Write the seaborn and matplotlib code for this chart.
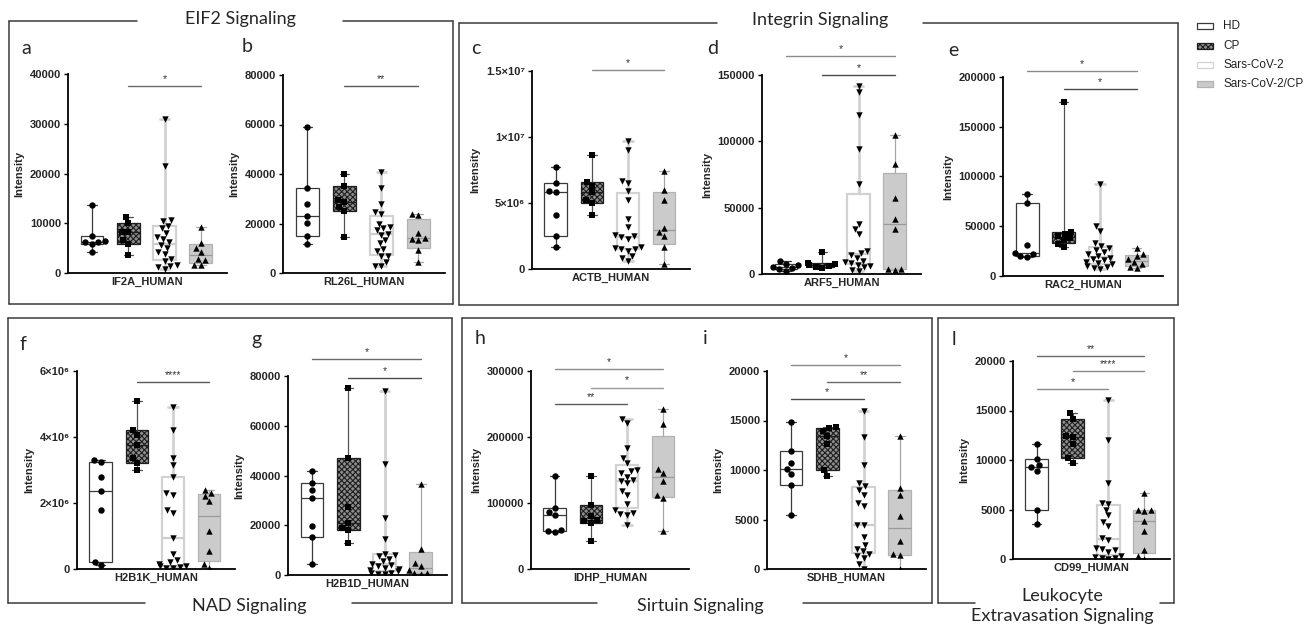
import warnings
warnings.filterwarnings("ignore")
import numpy as np
import pandas as pd
import matplotlib
matplotlib.use("Agg")
import matplotlib.pyplot as plt
import matplotlib.cbook as cbook
import seaborn as sns
from matplotlib.lines import Line2D
from matplotlib.patches import Rectangle

GROUPS = ["HD", "CP", "Sars-CoV-2", "Sars-CoV-2/CP"]

# ---- data ----
IF2A_HD = [13600, 7400, 6500, 6300, 6200, 5900, 4200]
IF2A_CP = [11300, 10100, 8300, 8200, 6600, 5800, 3600]
IF2A_SARS = [31000, 21500, 10600, 10400, 9500, 9000, 8000, 7300, 6800, 6200,
             5600, 5000, 4300, 3800, 2800, 2500, 1600, 1500, 1200, 900]
IF2A_SARSCP = [9200, 6000, 5100, 4300, 2800, 2600, 1700, 1600]

RL26L_HD = [59000, 34200, 28000, 23000, 20300, 15000, 11900]
RL26L_CP = [40000, 35300, 29500, 28700, 26500, 25000, 14700]
RL26L_SARS = [41000, 34500, 28000, 24500, 24000, 20000, 18500, 18000, 17500, 15800,
              15500, 13500, 12000, 9800, 8800, 7000, 6800, 4500, 3000, 2800]
RL26L_SARSCP = [24000, 23500, 16000, 14200, 13800, 13200, 9300, 4500]

ACTB_HD = [7.7e6, 6.5e6, 5.9e6, 5.8e6, 4.1e6, 2.5e6, 1.7e6]
ACTB_CP = [8.6e6, 6.6e6, 6.3e6, 5.8e6, 5.2e6, 5.0e6, 4.1e6]
ACTB_SARS = [9.7e6, 9.0e6, 6.7e6, 6.5e6, 5.9e6, 5.2e6, 3.8e6, 3.2e6, 2.6e6, 2.5e6,
             2.4e6, 2.3e6, 1.7e6, 1.6e6, 1.5e6, 1.5e6, 1.4e6, 1.0e6, 0.8e6, 0.6e6]
ACTB_SARSCP = [7.4e6, 6.0e6, 5.2e6, 3.1e6, 2.8e6, 2.5e6, 1.7e6, 0.35e6]

ARF5_HD = [9500, 7500, 6800, 5500, 4500, 3500, 2500]
ARF5_CP = [16500, 8500, 7500, 6800, 6000, 5200, 4500]
ARF5_SARS = [142000, 137000, 120000, 94000, 68000, 38000, 34000, 30000, 17000, 16000,
             14000, 12000, 10000, 9000, 8000, 7000, 6000, 5000, 3000, 2000]
ARF5_SARSCP = [105000, 83000, 57000, 41500, 34000, 4000, 3500, 3000]

RAC2_HD = [82000, 73000, 31000, 23000, 22000, 20000, 19000]
RAC2_CP = [175000, 44500, 42500, 40000, 38000, 36000, 32000, 29000]
RAC2_SARS = [92000, 50000, 45000, 33000, 30000, 28000, 26000, 24000, 22000, 20000,
             18000, 17000, 16000, 14000, 13000, 12000, 10000, 9000, 8000, 7000]
RAC2_SARSCP = [28000, 22000, 20000, 17000, 14000, 12000, 9000, 8000]

H2B1K_HD = [3.3e6, 3.25e6, 2.8e6, 2.35e6, 1.8e6, 0.2e6, 0.13e6]
H2B1K_CP = [5.1e6, 4.2e6, 4.05e6, 3.75e6, 3.35e6, 3.2e6, 3.0e6]
H2B1K_SARS = [4.9e6, 4.2e6, 3.35e6, 3.15e6, 2.8e6, 2.3e6, 2.25e6, 1.8e6, 1.7e6, 0.95e6,
              0.45e6, 0.26e6, 0.2e6, 0.15e6, 0.1e6, 0.08e6, 0.06e6, 0.04e6, 0.02e6]
H2B1K_SARSCP = [2.4e6, 2.3e6, 2.2e6, 2.05e6, 1.15e6, 0.55e6, 0.15e6, 0.02e6]

H2B1D_HD = [42000, 37000, 34000, 31000, 19800, 15300, 4400]
H2B1D_CP = [75000, 47000, 27500, 21000, 18800, 18000, 13000]
H2B1D_SARS = [74000, 44500, 23000, 14500, 8500, 8000, 7500, 6500, 5500, 4500,
              4000, 3500, 3000, 2500, 2000, 1500, 1000, 800, 500, 300]
H2B1D_SARSCP = [36500, 10500, 4800, 3500, 2200, 1000, 700, 500]

IDHP_HD = [141000, 93000, 86000, 82000, 59000, 57000, 56000]
IDHP_CP = [141000, 96500, 81000, 74000, 72000, 69500, 42500]
IDHP_SARS = [227000, 221000, 184000, 168000, 160000, 150000, 148000, 145000, 140000, 135000,
             133000, 130000, 118000, 112000, 98000, 90000, 85000, 84000, 82000, 66000]
IDHP_SARSCP = [243000, 219000, 152000, 145000, 133000, 112000, 108000, 58000]

SDHB_HD = [14800, 11900, 10700, 10100, 9600, 8500, 5500]
SDHB_CP = [14300, 14200, 13900, 13400, 12600, 9950, 9400]
SDHB_SARS = [16000, 13300, 10500, 8700, 8400, 8000, 7500, 6700, 6400, 4400,
             4400, 3200, 2400, 2000, 1800, 1500, 1300, 1100, 500, 50]
SDHB_SARSCP = [13400, 8200, 7500, 5400, 2800, 1500, 1400, 50]

CD99_HD = [11600, 10100, 9500, 9300, 8900, 4900, 3500]
CD99_CP = [14700, 14100, 12400, 12300, 11600, 10200, 9700]
CD99_SARS = [16100, 12000, 7700, 5700, 5600, 5000, 4400, 3700, 3300, 2100,
             1900, 1100, 1000, 900, 700, 300, 200, 100, 80, 50]
CD99_SARSCP = [6700, 5000, 4900, 4800, 3800, 2800, 900, 300, 20]

# ---- quartiles as GraphPad computes them ((n+1)p rule) ----
_orig_stats = cbook.boxplot_stats


def graphpad_stats(X, *args, **kwargs):
    out = _orig_stats(X, *args, **kwargs)
    if isinstance(X, (list, tuple)):
        datasets = list(X)
    else:
        a = np.asarray(X, dtype=float)
        datasets = [a] if a.ndim == 1 else list(a.T)
    for st, d in zip(out, datasets):
        d = np.asarray(d, dtype=float).ravel()
        if d.size >= 2:
            q1, q3 = np.percentile(d, [25, 75], method="weibull")
            st["q1"], st["q3"] = q1, q3
    return out


matplotlib.cbook.boxplot_stats = graphpad_stats

sns.set_theme(style="white")
plt.rcParams["font.family"] = ["Liberation Sans", "DejaVu Sans"]
plt.rcParams["hatch.linewidth"] = 0.8

W, H = 1312, 626
fig = plt.figure(figsize=(W / 100, H / 100), dpi=100)
fig.patch.set_facecolor("white")

STYLE = {
    "HD": dict(face="white", edge="#3a3a3a", lw=0.9, wcol="#3a3a3a", wlw=0.9,
               mcol="#3a3a3a", hatch=None, marker="o"),
    "CP": dict(face="#8e8e8e", edge="#1e1e1e", lw=0.9, wcol="#505050", wlw=0.9,
               mcol="#1e1e1e", hatch="xxxxxx", marker="s"),
    "Sars-CoV-2": dict(face="white", edge="#d2d2d2", lw=1.6, wcol="#d2d2d2", wlw=2.0,
                       mcol="#cccccc", hatch=None, marker="v"),
    "Sars-CoV-2/CP": dict(face="#cbcbcb", edge="#b2b2b2", lw=0.9, wcol="#a6a6a6", wlw=0.9,
                          mcol="#9a9a9a", hatch=None, marker="^"),
}
TITLE_FONT = ["Lato", "DejaVu Sans"]


def fx(x):
    return x / W


def fy(y):
    return 1 - y / H


def panel(box, ymax, ticks, ticklabels, xlabel, data, bars, letter, lxy):
    x0, x1, yt, yb = box
    ax = fig.add_axes([fx(x0), fy(yb), (x1 - x0) / W, (yb - yt) / H])
    df = pd.DataFrame({"group": np.repeat(GROUPS, [len(v) for v in data]),
                       "value": np.concatenate([np.asarray(v, float) for v in data])})
    for g in GROUPS:
        st = STYLE[g]
        sub = df[df.group == g]
        sns.boxplot(data=sub, x="group", y="value", order=GROUPS, ax=ax, width=0.63,
                    whis=(0, 100), showfliers=False, capwidths=0.26,
                    boxprops=dict(facecolor=st["face"], edgecolor=st["edge"],
                                  linewidth=st["lw"], hatch=st["hatch"]),
                    whiskerprops=dict(color=st["wcol"], linewidth=st["wlw"]),
                    capprops=dict(color=st["wcol"], linewidth=st["wlw"]),
                    medianprops=dict(color=st["mcol"], linewidth=st["lw"]))
    ax.set_xlim(-0.66, 3.72)
    ax.set_ylim(0, ymax)
    for g in GROUPS:
        st = STYLE[g]
        sub = df[df.group == g]
        sns.swarmplot(data=sub, x="group", y="value", order=GROUPS, ax=ax, color="black",
                      marker=st["marker"], size=4.6, linewidth=0, zorder=4)
    ax.set_xlim(-0.66, 3.72)
    ax.set_ylim(0, ymax)
    ax.set_yticks(ticks)
    ax.set_yticklabels(ticklabels, fontsize=8, fontweight="bold")
    ax.set_xticks([])
    ax.tick_params(axis="y", left=True, length=3, width=1.0, pad=2, direction="out",
                   color="black")
    ax.set_xlabel(xlabel, fontsize=8, fontweight="bold", labelpad=3)
    ax.set_ylabel("Intensity", fontsize=8, fontweight="bold", labelpad=4)
    for s in ("top", "right"):
        ax.spines[s].set_visible(False)
    for s in ("left", "bottom"):
        ax.spines[s].set_color("black")
        ax.spines[s].set_linewidth(1.3)
    ax.set_facecolor("none")
    for i, j, yv, stars, col in bars:
        ax.plot([i, j], [yv, yv], color=col, lw=1.0, clip_on=False, zorder=5)
        ax.annotate(stars, xy=((i + j) / 2, yv), xytext=(0, 1.5), textcoords="offset points",
                    ha="center", va="bottom", fontsize=7.5, color="#333333",
                    annotation_clip=False)
    fig.text(fx(lxy[0]), fy(lxy[1]), letter, fontsize=14, family=TITLE_FONT,
             ha="left", va="center")
    return ax


panel((68, 227, 74, 273), 40000, [0, 10000, 20000, 30000, 40000],
      ["0", "10000", "20000", "30000", "40000"], "IF2A_HUMAN",
      [IF2A_HD, IF2A_CP, IF2A_SARS, IF2A_SARSCP],
      [(1, 3, 37600, "*", "#6a6a6a")], "a", (21, 48))

panel((283, 445, 75, 273), 80000, [0, 20000, 40000, 60000, 80000],
      ["0", "20000", "40000", "60000", "80000"], "RL26L_HUMAN",
      [RL26L_HD, RL26L_CP, RL26L_SARS, RL26L_SARSCP],
      [(1, 3, 75600, "**", "#5a5a5a")], "b", (242, 47))

panel((532, 690, 71, 269), 1.5e7, [0, 5e6, 1e7, 1.5e7],
      ["0", "5×10⁶", "1×10⁷", "1.5×10⁷"], "ACTB_HUMAN",
      [ACTB_HD, ACTB_CP, ACTB_SARS, ACTB_SARSCP],
      [(1, 3, 1.505e7, "*", "#8a8a8a")], "c", (471, 49))

panel((762, 921, 75, 274), 150000, [0, 50000, 100000, 150000],
      ["0", "50000", "100000", "150000"], "ARF5_HUMAN",
      [ARF5_HD, ARF5_CP, ARF5_SARS, ARF5_SARSCP],
      [(0, 3, 164000, "*", "#8a8a8a"), (1, 3, 150200, "*", "#4a4a4a")], "d", (707, 49))

panel((1003, 1163, 77, 276), 200000, [0, 50000, 100000, 150000, 200000],
      ["0", "50000", "100000", "150000", "200000"], "RAC2_HUMAN",
      [RAC2_HD, RAC2_CP, RAC2_SARS, RAC2_SARSCP],
      [(0, 3, 205700, "*", "#8a8a8a"), (1, 3, 188000, "*", "#4a4a4a")], "e", (948, 50))

panel((77, 235, 371, 569), 6e6, [0, 2e6, 4e6, 6e6],
      ["0", "2×10⁶", "4×10⁶", "6×10⁶"], "H2B1K_HUMAN",
      [H2B1K_HD, H2B1K_CP, H2B1K_SARS, H2B1K_SARSCP],
      [(1, 3, 5.67e6, "****", "#5a5a5a")], "f", (20, 345))

panel((288, 447, 376, 575), 80000, [0, 20000, 40000, 60000, 80000],
      ["0", "20000", "40000", "60000", "80000"], "H2B1D_HUMAN",
      [H2B1D_HD, H2B1D_CP, H2B1D_SARS, H2B1D_SARSCP],
      [(0, 3, 86700, "*", "#6a6a6a"), (1, 3, 79200, "*", "#4a4a4a")], "g", (251, 339))

panel((531, 689, 371, 569), 300000, [0, 100000, 200000, 300000],
      ["0", "100000", "200000", "300000"], "IDHP_HUMAN",
      [IDHP_HD, IDHP_CP, IDHP_SARS, IDHP_SARSCP],
      [(0, 3, 302500, "*", "#8a8a8a"), (1, 3, 274800, "*", "#9a9a9a"),
       (0, 2, 249600, "**", "#5a5a5a")], "h", (475, 339))

panel((767, 926, 371, 569), 20000, [0, 5000, 10000, 15000, 20000],
      ["0", "5000", "10000", "15000", "20000"], "SDHB_HUMAN",
      [SDHB_HD, SDHB_CP, SDHB_SARS, SDHB_SARSCP],
      [(0, 3, 20640, "*", "#8a8a8a"), (1, 3, 18860, "**", "#6a6a6a"),
       (0, 2, 17140, "*", "#4a4a4a")], "i", (703, 339))

panel((1013, 1170, 361, 559), 20000, [0, 5000, 10000, 15000, 20000],
      ["0", "5000", "10000", "15000", "20000"], "CD99_HUMAN",
      [CD99_HD, CD99_CP, CD99_SARS, CD99_SARSCP],
      [(0, 3, 20500, "**", "#6a6a6a"), (1, 3, 18960, "****", "#8a8a8a"),
       (0, 2, 17200, "*", "#8a8a8a")], "l", (952, 340))


# ---- frames and section titles ----
def L(x0, y0, x1, y1):
    fig.add_artist(Line2D([fx(x0), fx(x1)], [fy(y0), fy(y1)], color="#3a3a3a", lw=1.1))


# EIF2
L(9, 21, 137, 21); L(343, 21, 453, 21); L(9, 21, 9, 304); L(453, 21, 453, 304); L(9, 304, 453, 304)
# Integrin
L(459, 23, 717, 23); L(923, 23, 1178, 23); L(459, 23, 459, 305); L(1178, 23, 1178, 305); L(459, 305, 1178, 305)
# NAD
L(8, 318, 452, 318); L(8, 318, 8, 603); L(452, 318, 452, 603); L(8, 603, 145, 603); L(352, 603, 452, 603)
# Sirtuin
L(462, 318, 932, 318); L(462, 318, 462, 603); L(932, 318, 932, 603); L(462, 603, 597, 603); L(803, 603, 932, 603)
# Leukocyte
L(938, 318, 1174, 318); L(938, 318, 938, 603); L(1174, 318, 1174, 603); L(938, 603, 975, 603); L(1160, 603, 1174, 603)

tkw = dict(fontsize=13, family=TITLE_FONT, ha="center", va="center")
fig.text(fx(240), fy(19), "EIF2 Signaling", **tkw)
fig.text(fx(820), fy(20), "Integrin Signaling", **tkw)
fig.text(fx(249), fy(606), "NAD Signaling", **tkw)
fig.text(fx(700), fy(606), "Sirtuin Signaling", **tkw)
fig.text(fx(1062), fy(596), "Leukocyte", **tkw)
fig.text(fx(1062), fy(616), "Extravasation Signaling", **tkw)

# ---- legend ----
leg_y = [26, 46, 65, 84]
for g, yy in zip(GROUPS, leg_y):
    st = STYLE[g]
    fig.add_artist(Rectangle((fx(1197), fy(yy + 3)), 16 / W, 6 / H, transform=fig.transFigure,
                             facecolor=st["face"], edgecolor=st["edge"], lw=0.9,
                             hatch=st["hatch"]))
    fig.text(fx(1223), fy(yy), g, fontsize=8.5, ha="left", va="center", color="#222222")

fig.savefig("out.png", dpi=100)
